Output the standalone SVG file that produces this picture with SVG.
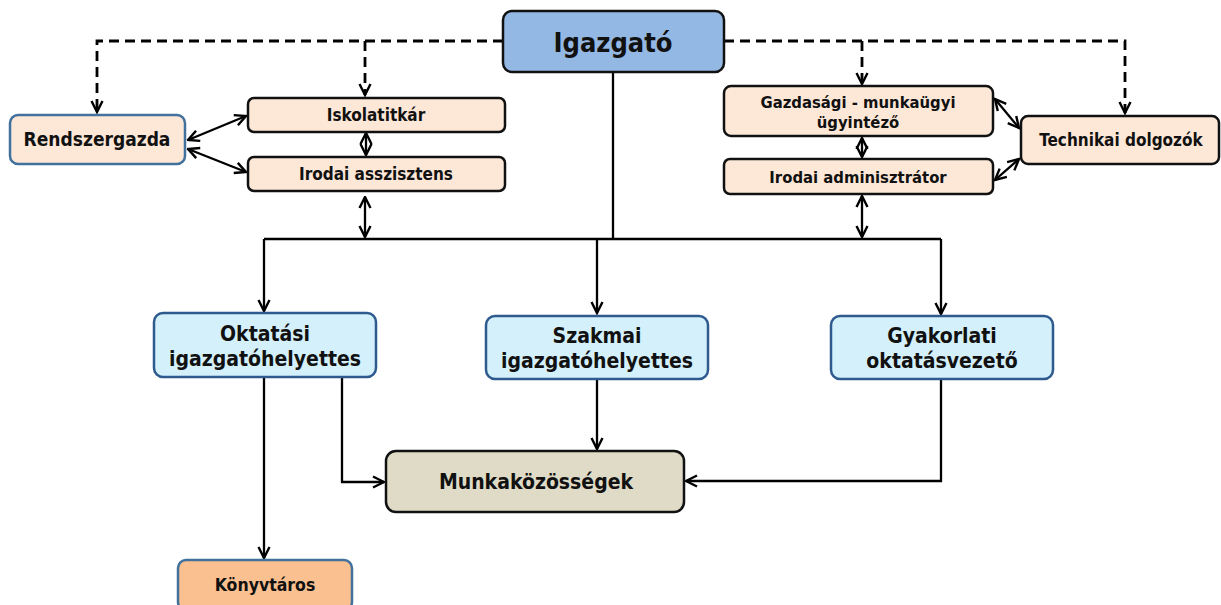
<svg xmlns="http://www.w3.org/2000/svg" width="1221" height="605" viewBox="0 0 1221 605">
<defs>
<marker id="ah" viewBox="0 0 14 14" refX="12.5" refY="7" markerWidth="14" markerHeight="14" markerUnits="userSpaceOnUse" orient="auto-start-reverse">
<path d="M1.5,1.5 L12.5,7 L1.5,12.5" fill="none" stroke="#000" stroke-width="2.4"/>
</marker>
</defs>
<style>
text{font-family:"DejaVu Sans Condensed","DejaVu Sans",sans-serif;font-weight:bold;fill:#111;text-anchor:middle}
.box{stroke-width:2.5}
.peach{fill:#FDE8D8}
.dark{stroke:#111}
.blue{stroke:#41719C}
.lb{fill:#D3F0FB;stroke:#2E5A8E}
.ln{fill:none;stroke:#000;stroke-width:2.3}
.dash{fill:none;stroke:#000;stroke-width:2.8;stroke-dasharray:10,6}
</style>
<g id="connectors">
<path class="dash" d="M503,41 H97 V112" marker-end="url(#ah)"/>
<path class="dash" d="M365,41 V95" marker-end="url(#ah)"/>
<path class="dash" d="M724,41 H1125 V113" marker-end="url(#ah)"/>
<path class="dash" d="M862,41 V84" marker-end="url(#ah)"/>
<path class="ln" d="M188,140 L246,116" marker-start="url(#ah)" marker-end="url(#ah)"/>
<path class="ln" d="M188,149 L246,172" marker-start="url(#ah)" marker-end="url(#ah)"/>
<path class="ln" d="M366,133 V155" marker-start="url(#ah)" marker-end="url(#ah)"/>
<path class="ln" d="M365,197 V237" marker-start="url(#ah)" marker-end="url(#ah)"/>
<path class="ln" d="M862,138 V157" marker-start="url(#ah)" marker-end="url(#ah)"/>
<path class="ln" d="M862,196 V237" marker-start="url(#ah)" marker-end="url(#ah)"/>
<path class="ln" d="M995,99 L1019,128" marker-start="url(#ah)" marker-end="url(#ah)"/>
<path class="ln" d="M995,180 L1019,159" marker-start="url(#ah)" marker-end="url(#ah)"/>
<path class="ln" d="M613,72 V239"/>
<path class="ln" d="M264,239 H941"/>
<path class="ln" d="M264,239 V311" marker-end="url(#ah)"/>
<path class="ln" d="M597,239 V313" marker-end="url(#ah)"/>
<path class="ln" d="M941,239 V314" marker-end="url(#ah)"/>
<path class="ln" d="M264,378 V558" marker-end="url(#ah)"/>
<path class="ln" d="M342,378 V482 H384" marker-end="url(#ah)"/>
<path class="ln" d="M597,380 V449" marker-end="url(#ah)"/>
<path class="ln" d="M941,380 V481 H686" marker-end="url(#ah)"/>
</g>
<g id="igazgato">
<rect class="box dark" x="503" y="11" width="221" height="61" rx="9" fill="#94B8E4"/>
<text x="613" y="52" font-size="27">Igazgató</text>
</g>
<g id="rendszergazda">
<rect class="box blue peach" x="10" y="115" width="175" height="49" rx="8"/>
<text x="97" y="146" font-size="19">Rendszergazda</text>
</g>
<g id="iskolatitkar">
<rect class="box dark peach" x="248" y="98" width="257" height="34" rx="6"/>
<text x="376" y="121" font-size="17">Iskolatitkár</text>
</g>
<g id="irodai-asszisztens">
<rect class="box dark peach" x="248" y="157" width="257" height="34" rx="6"/>
<text x="376" y="180" font-size="17">Irodai asszisztens</text>
</g>
<g id="gazdasagi">
<rect class="box dark peach" x="724" y="86" width="269" height="50" rx="7"/>
<text x="858" y="108" font-size="16.5">Gazdasági - munkaügyi</text>
<text x="858" y="128" font-size="16.5">ügyintéző</text>
</g>
<g id="irodai-adminisztrator">
<rect class="box dark peach" x="724" y="159" width="269" height="35" rx="6"/>
<text x="858" y="183" font-size="16.5">Irodai adminisztrátor</text>
</g>
<g id="technikai">
<rect class="box dark peach" x="1021" y="116" width="198" height="48" rx="7"/>
<text x="1121" y="146" font-size="17">Technikai dolgozók</text>
</g>
<g id="oktatasi">
<rect class="box lb" x="154" y="313" width="222" height="64" rx="9"/>
<text x="265" y="341" font-size="21">Oktatási</text>
<text x="265" y="366" font-size="21">igazgatóhelyettes</text>
</g>
<g id="szakmai">
<rect class="box lb" x="486" y="316" width="222" height="63" rx="9"/>
<text x="597" y="343" font-size="21">Szakmai</text>
<text x="597" y="368" font-size="21">igazgatóhelyettes</text>
</g>
<g id="gyakorlati">
<rect class="box lb" x="831" y="316" width="222" height="63" rx="9"/>
<text x="942" y="343" font-size="21">Gyakorlati</text>
<text x="942" y="368" font-size="21">oktatásvezető</text>
</g>
<g id="munkakozossegek">
<rect class="box dark" x="386" y="451" width="298" height="61" rx="10" fill="#DFDBC6"/>
<text x="536" y="489" font-size="21">Munkaközösségek</text>
</g>
<g id="konyvtaros">
<rect class="box blue" x="178" y="560" width="174" height="50" rx="8" fill="#FAC090"/>
<text x="265" y="591" font-size="17.5">Könyvtáros</text>
</g>
</svg>
